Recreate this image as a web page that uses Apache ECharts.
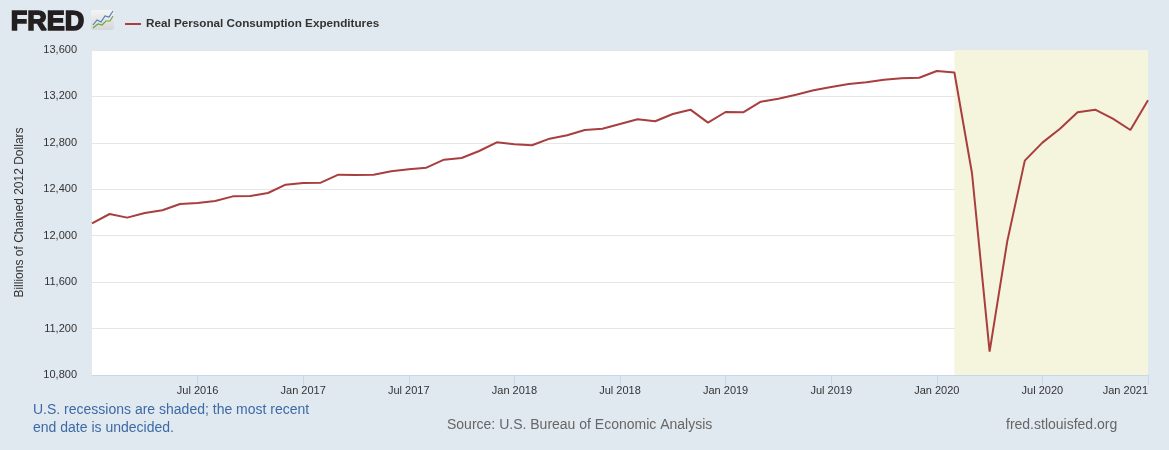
<!DOCTYPE html>
<html>
<head>
<meta charset="utf-8">
<script src="https://cdn.jsdelivr.net/npm/echarts@6/dist/echarts.min.js"></script>
<style>
  html, body { margin: 0; padding: 0; background: #e1e9f0; }
  #chart { width: 1169px; height: 450px; }
</style>
</head>
<body>
<div id="chart"></div>
<script>
const months = [
  'Jan 2016', 'Feb 2016', 'Mar 2016', 'Apr 2016', 'May 2016', 'Jun 2016',
  'Jul 2016', 'Aug 2016', 'Sep 2016', 'Oct 2016', 'Nov 2016', 'Dec 2016',
  'Jan 2017', 'Feb 2017', 'Mar 2017', 'Apr 2017', 'May 2017', 'Jun 2017',
  'Jul 2017', 'Aug 2017', 'Sep 2017', 'Oct 2017', 'Nov 2017', 'Dec 2017',
  'Jan 2018', 'Feb 2018', 'Mar 2018', 'Apr 2018', 'May 2018', 'Jun 2018',
  'Jul 2018', 'Aug 2018', 'Sep 2018', 'Oct 2018', 'Nov 2018', 'Dec 2018',
  'Jan 2019', 'Feb 2019', 'Mar 2019', 'Apr 2019', 'May 2019', 'Jun 2019',
  'Jul 2019', 'Aug 2019', 'Sep 2019', 'Oct 2019', 'Nov 2019', 'Dec 2019',
  'Jan 2020', 'Feb 2020', 'Mar 2020', 'Apr 2020', 'May 2020', 'Jun 2020',
  'Jul 2020', 'Aug 2020', 'Sep 2020', 'Oct 2020', 'Nov 2020', 'Dec 2020',
  'Jan 2021'
];

// Real PCE, billions of chained 2012 dollars
const pce = [
  12107, 12187, 12156, 12196, 12219, 12273,
  12282, 12299, 12339, 12342, 12368, 12440,
  12454, 12457, 12526, 12523, 12526, 12555,
  12572, 12586, 12655, 12670, 12730, 12805,
  12788, 12779, 12836, 12865, 12911, 12922,
  12962, 13003, 12986, 13049, 13086, 12974,
  13066, 13063, 13155, 13180, 13215, 13253,
  13281, 13307, 13322, 13344, 13356, 13361,
  13419, 13406, 12538, 11001, 11949, 12647,
  12802, 12922, 13063, 13086, 13008, 12911,
  13167
];

const recession = ['Feb 2020', 'Jan 2021'];
const labelMonths = ['Jul', 'Jan'];

const showTick = (idx) => idx > 0 && labelMonths.includes(months[idx].slice(0, 3));

const chart = echarts.init(document.getElementById('chart'));

chart.setOption({
  animation: false,
  backgroundColor: '#e1e9f0',
  textStyle: { fontFamily: 'Liberation Sans, Arial, sans-serif' },
  grid: { left: 92, right: 21, top: 50, bottom: 75 },
  legend: {
    left: 120,
    top: 13,
    icon: 'rect',
    itemWidth: 16,
    itemHeight: 2,
    textStyle: { color: '#333', fontSize: 11.7, fontWeight: 'bold' },
    data: ['Real Personal Consumption Expenditures']
  },
  xAxis: {
    type: 'category',
    data: months,
    boundaryGap: false,
    axisLine: { lineStyle: { color: '#ccd6eb' } },
    axisTick: { show: true, length: 10, interval: showTick, lineStyle: { color: '#ccd6eb' } },
    axisLabel: {
      interval: showTick,
      color: '#333',
      fontSize: 11,
      margin: 10,
      alignMaxLabel: 'right'
    },
    splitLine: { show: false }
  },
  yAxis: {
    type: 'value',
    min: 10800,
    max: 13600,
    interval: 400,
    name: 'Billions of Chained 2012 Dollars',
    nameLocation: 'middle',
    nameGap: 66,
    nameTextStyle: { color: '#333', fontSize: 12 },
    axisLine: { show: false },
    axisTick: { show: false },
    axisLabel: {
      color: '#333',
      fontSize: 11,
      margin: 15,
      formatter: (v) => v.toLocaleString('en-US')
    },
    splitLine: { lineStyle: { color: '#e6e6e6' } }
  },
  series: [{
    name: 'Real Personal Consumption Expenditures',
    type: 'line',
    data: pce,
    symbol: 'none',
    itemStyle: { color: '#a83e3e' },
    lineStyle: { color: '#a83e3e', width: 2 },
    markArea: {
      silent: true,
      itemStyle: { color: '#f5f4dc' },
      data: [[{ xAxis: recession[0] }, { xAxis: recession[1] }]]
    },
    z: 3
  }],
  graphic: [
    // plot background
    {
      type: 'rect', z: -10, silent: true,
      shape: { x: 92, y: 50, width: 1056, height: 325 },
      style: { fill: '#ffffff' }
    },
    // logo
    {
      type: 'text', left: 10, top: 8,
      style: {
        text: 'FRED', fill: '#231f20', stroke: '#231f20', lineWidth: 1.6,
        font: '900 27px "Liberation Sans", Arial, sans-serif'
      }
    },
    {
      type: 'rect',
      shape: { x: 91, y: 10, width: 23, height: 20, r: 2 },
      style: {
        fill: {
          type: 'linear', x: 0, y: 0, x2: 0, y2: 1,
          colorStops: [{ offset: 0, color: '#f4f4f4' }, { offset: 1, color: '#d4d6d8' }]
        }
      }
    },
    {
      type: 'polyline',
      shape: { points: [[93, 25], [97, 20], [101, 22], [105, 16], [109, 17], [113, 11]] },
      style: { stroke: '#4f81bd', lineWidth: 1.2, fill: null }
    },
    {
      type: 'polyline',
      shape: { points: [[93, 28], [98, 24], [102, 25], [106, 21], [110, 21], [113, 16]] },
      style: { stroke: '#77a33a', lineWidth: 1.2, fill: null }
    },
    // footer
    {
      type: 'text', left: 33, top: 401,
      style: {
        text: 'U.S. recessions are shaded; the most recent\nend date is undecided.',
        fill: '#3c6aa5', fontSize: 14, lineHeight: 18,
        fontFamily: 'Liberation Sans, Arial, sans-serif'
      }
    },
    {
      type: 'text', left: 447, top: 418,
      style: {
        text: 'Source: U.S. Bureau of Economic Analysis',
        fill: '#666', fontSize: 14,
        fontFamily: 'Liberation Sans, Arial, sans-serif'
      }
    },
    {
      type: 'text', left: 1006, top: 418,
      style: {
        text: 'fred.stlouisfed.org',
        fill: '#666', fontSize: 14,
        fontFamily: 'Liberation Sans, Arial, sans-serif'
      }
    }
  ]
});
</script>
</body>
</html>
